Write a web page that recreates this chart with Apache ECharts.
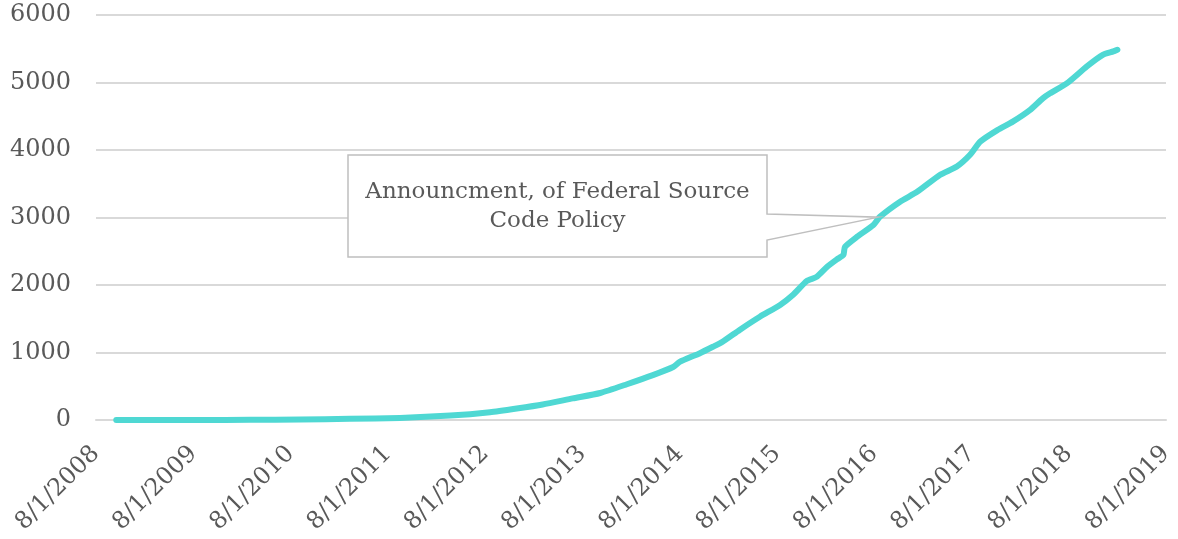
<!DOCTYPE html>
<html>
<head>
<meta charset="utf-8">
<script src="https://cdn.jsdelivr.net/npm/echarts@6/dist/echarts.min.js"></script>
<style>
html,body{margin:0;padding:0;background:#fff;}
#c{width:1178px;height:539px;}
</style>
</head>
<body>
<div id="c"></div>
<script>
// months since 8/1/2008
var months = [2.5, 12.8, 19.0, 25.2, 31.3, 37.5, 43.7, 48.6, 51.9, 55.1, 58.8, 62.2, 65.5, 68.7, 71.2, 72.0, 74.5, 76.1, 77.3, 79.4, 81.9, 84.4, 86.0, 87.7, 88.9, 90.2, 91.4, 92.2, 92.4, 93.9, 95.9, 96.7, 99.2, 101.3, 104.1, 106.2, 107.8, 109.1, 111.2, 113.1, 115.2, 116.8, 117.7, 119.8, 122.2, 124.2, 125.5, 126.0];
var counts = [0, 1, 3, 8, 18, 30, 65, 115, 170, 230, 320, 400, 530, 665, 785, 860, 990, 1085, 1160, 1335, 1530, 1705, 1855, 2060, 2120, 2270, 2380, 2445, 2565, 2715, 2890, 3010, 3235, 3380, 3630, 3755, 3925, 4125, 4295, 4420, 4590, 4765, 4840, 4990, 5235, 5410, 5460, 5485];
var startYear = 2008;
var yTicks = [0, 1000, 2000, 3000, 4000, 5000, 6000];
var annotText = ['Announcment, of Federal Source', 'Code Policy'];
var annotPoint = [96.5, 3005];

var data = months.map(function (m, i) { return [m, counts[i]]; });
var FONT = "'DejaVu Serif', Georgia, serif";

var chart = echarts.init(document.getElementById('c'));
chart.setOption({
  animation: false,
  backgroundColor: '#ffffff',
  grid: { left: 96, right: 12, top: 15, bottom: 119, containLabel: false },
  xAxis: {
    type: 'value', min: 0, max: 132, interval: 12,
    axisLine: { show: true, lineStyle: { color: '#d9d9d9', width: 2 } },
    axisTick: { show: false },
    splitLine: { show: false },
    axisLabel: {
      rotate: 45, margin: 30, color: '#595959', fontFamily: FONT, fontSize: 24,
      formatter: function (v) { return '8/1/' + (startYear + Math.round(v / 12)); }
    }
  },
  yAxis: {
    type: 'value', min: yTicks[0], max: yTicks[yTicks.length - 1], interval: 1000,
    axisLine: { show: false }, axisTick: { show: false },
    splitLine: { lineStyle: { color: '#d9d9d9', width: 2 } },
    axisLabel: { margin: 25, color: '#595959', fontFamily: FONT, fontSize: 24,
      formatter: function (v) { return String(v); } }
  },
  series: [{
    type: 'line', data: data, showSymbol: false, smooth: 0.2,
    lineStyle: { color: '#4fd8d3', width: 6, cap: 'round', join: 'round' },
    z: 3
  }]
});

var tip = chart.convertToPixel({ seriesIndex: 0 }, annotPoint);
var bx0 = 348, bx1 = 767, by0 = 155, by1 = 257;
chart.setOption({
  graphic: [{
    type: 'polygon', z: 10,
    shape: { points: [[bx0, by0], [bx1, by0], [bx1, 214], [tip[0], tip[1]], [bx1, 240], [bx1, by1], [bx0, by1]] },
    style: { fill: '#ffffff', stroke: '#bfbfbf', lineWidth: 1.5 }
  }, {
    type: 'text', z: 11, x: (bx0 + bx1) / 2, y: (by0 + by1) / 2 + 1,
    style: {
      text: annotText.join('\n'), fill: '#595959', font: "23px 'DejaVu Serif', Georgia, serif",
      align: 'center', verticalAlign: 'middle', lineHeight: 29
    }
  }]
});
</script>
</body>
</html>
